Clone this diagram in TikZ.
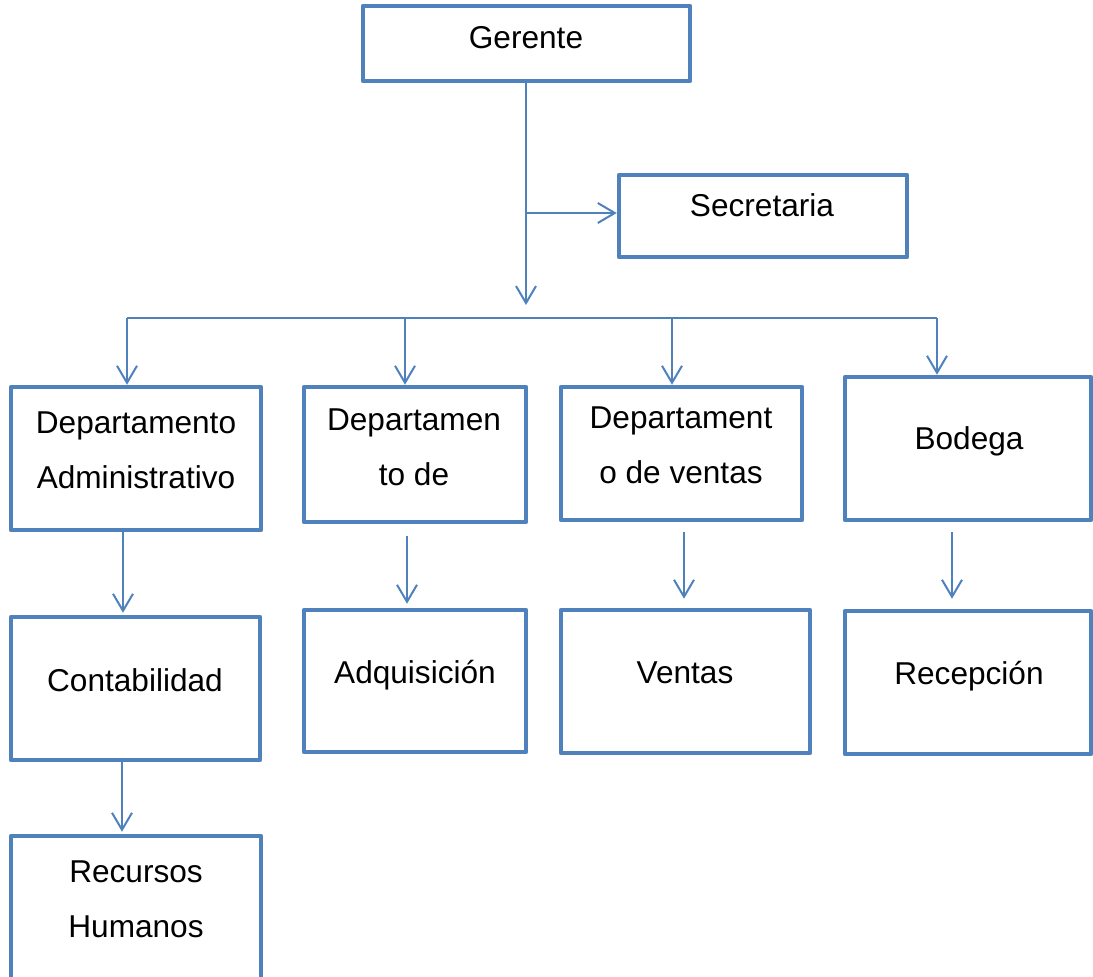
\documentclass[tikz,border=0pt]{standalone}
\usepackage{fontspec}
\setmainfont{Liberation Sans}
\usetikzlibrary{arrows.meta}
\definecolor{boxblue}{RGB}{79,129,189}
\begin{document}
\begin{tikzpicture}[x=1pt,y=-1pt,
  box/.style 2 args={draw=boxblue, line width=4.5pt, line join=round, fill=white,
    inner sep=0pt, minimum width=#1, minimum height=#2},
  lbl/.style={font=\fontsize{31.6}{55}\selectfont, anchor=base, align=center, inner sep=0pt},
  link/.style={draw=boxblue, line width=2pt},
  arr/.style={link, -{Straight Barb[length=17pt, width=20pt, line width=2pt]}},
  bus/.style={draw=boxblue, line width=1.5pt}]
\useasboundingbox (0,0) rectangle (1093,977);

% boxes (centre, border centre-line size)
\node[box={327pt}{75pt}]  (ger) at (526.5,43.5) {};
\node[box={288pt}{82pt}]  (sec) at (763,216) {};
\node[box={250pt}{143pt}] (da)  at (136,458.5) {};
\node[box={222pt}{135pt}] (dd)  at (415,454.5) {};
\node[box={241pt}{133pt}] (dv)  at (681.5,453.5) {};
\node[box={246pt}{143pt}] (bod) at (968,448.5) {};
\node[box={249pt}{143pt}] (con) at (135.5,688.5) {};
\node[box={222pt}{142pt}] (adq) at (415,681) {};
\node[box={249pt}{143pt}] (ven) at (685.5,681.5) {};
\node[box={246pt}{143pt}] (rec) at (968,682.5) {};
\node[box={250pt}{143pt}] (rh)  at (136,907.5) {};

% labels (anchored on the baseline of their last line)
\node[lbl] (tger) at (526,48)  {Gerente};
\node[lbl] (tsec) at (762,216) {Secretaria};
\node[lbl] (tda)  at (136,488) {Departamento\\Administrativo};
\node[lbl] (tdd)  at (414,485) {Departamen\\to de};
\node[lbl] (tdv)  at (681,483) {Departament\\o de ventas};
\node[lbl] (tbod) at (969,449) {Bodega};
\node[lbl] (tcon) at (135,691) {Contabilidad};
\node[lbl] (tadq) at (415,683) {Adquisición};
\node[lbl] (tven) at (685,683) {Ventas};
\node[lbl] (trec) at (969,684) {Recepción};
\node[lbl] (trh)  at (136,937) {Recursos\\Humanos};

% trunk from the manager down to the distribution bus
\coordinate (hub) at (526,305);
\coordinate (tee) at (526,213);
\draw[arr] (ger.south -| tee) -- (hub);
\draw[arr] (tee) -- (sec.west |- tee);

% distribution bus and its drops
\coordinate (b1) at (127,318);
\coordinate (b2) at (405,318);
\coordinate (b3) at (672,318);
\coordinate (b4) at (937,318);
\draw[bus] (b1) -- (b4);
\draw[arr] (b1) -- (b1 |- da.north);
\draw[arr] (b2) -- (b2 |- dd.north);
\draw[arr] (b3) -- (b3 |- dv.north);
\draw[arr] (b4) -- (b4 |- bod.north);

% department sub-units
\coordinate (s1) at ([xshift=-13pt]da.south);
\coordinate (s2) at ([xshift=-13.5pt]con.south);
\coordinate (s3) at ([xshift=-8pt,yshift=-12pt]dd.south);
\coordinate (s4) at ([xshift=2.5pt,yshift=-10pt]dv.south);
\coordinate (s5) at ([xshift=-16pt,yshift=-10pt]bod.south);
\draw[arr] (s1) -- ([yshift=2pt]s1 |- con.north);
\draw[arr] (s2) -- ([yshift=2pt]s2 |- rh.north);
\draw[arr] (s3) -- ([yshift=4pt]s3 |- adq.north);
\draw[arr] (s4) -- ([yshift=9pt]s4 |- ven.north);
\draw[arr] (s5) -- ([yshift=10pt]s5 |- rec.north);
\end{tikzpicture}
\end{document}
